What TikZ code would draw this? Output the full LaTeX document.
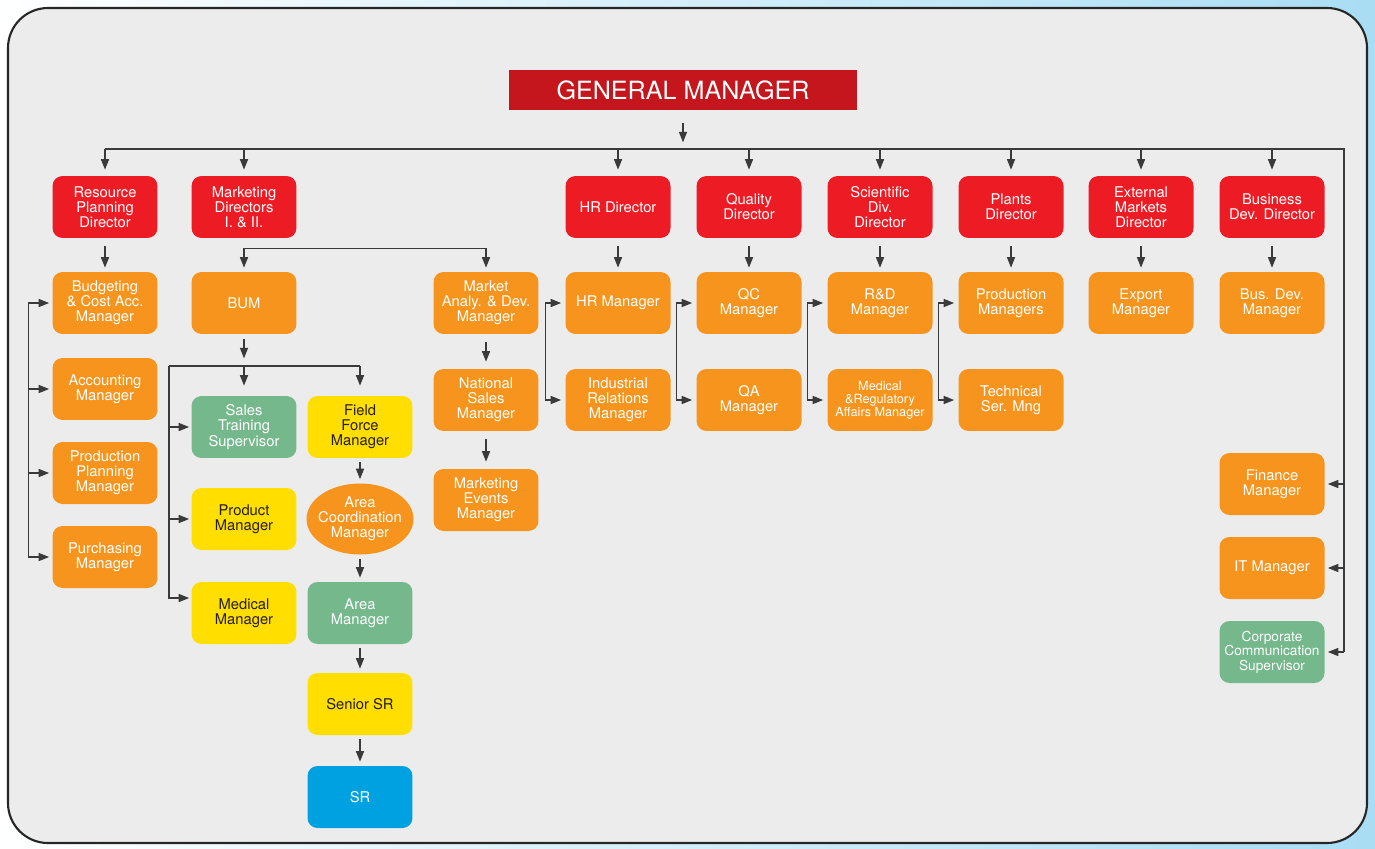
\documentclass[tikz,border=0pt]{standalone}
\usepackage{fontspec}
\setmainfont{TeX Gyre Heros}
\usetikzlibrary{arrows.meta,shapes.geometric}
\definecolor{gmred}{HTML}{C4161C}
\definecolor{dirred}{HTML}{ED1C24}
\definecolor{mgrorange}{HTML}{F7941D}
\definecolor{yelbox}{HTML}{FFDE00}
\definecolor{grnbox}{HTML}{75B88C}
\definecolor{blubox}{HTML}{00A1E1}
\definecolor{panelgrey}{HTML}{ECECEC}
\definecolor{linegrey}{HTML}{3A3A3A}
\definecolor{txtdark}{HTML}{231F20}
\definecolor{skyblue}{HTML}{A9DDF4}
\begin{document}
\begin{tikzpicture}[x=0.02cm,y=-0.02cm,
  box/.style={rounded corners=0.2cm, minimum width=2.1cm, minimum height=1.24cm,
    inner sep=1pt, align=center, text=white, font=\fontsize{8.4}{8.6}\selectfont},
  director/.style={box, fill=dirred},
  mgr/.style={box, fill=mgrorange},
  yel/.style={box, fill=yelbox, text=txtdark},
  grn/.style={box, fill=grnbox},
  blu/.style={box, fill=blubox},
  oval/.style={minimum width=2.14cm, minimum height=1.42cm, inner sep=0pt, align=center,
    text=white, font=\fontsize{8.4}{8.6}\selectfont,
    path picture={\fill[mgrorange] (path picture bounding box.center)
      ellipse [x radius=1.07cm, y radius=0.71cm];}},
  link/.style={draw=linegrey, line width=0.7pt},
  arr/.style={link, -{Triangle[length=6pt,width=4.6pt]}},
  twoarr/.style={link, {Triangle[length=6pt,width=4.6pt]}-{Triangle[length=6pt,width=4.6pt]}}]
  % background and panel
  \useasboundingbox (0,0) rectangle (1375,848);
  \shade[left color=white, middle color=white, right color=skyblue] (0,0) rectangle (1375,848);
  \draw[fill=panelgrey, draw=black!85, line width=1.2pt, rounded corners=0.8cm] (8,8) rectangle (1367,843);

  % top
  \node[box, fill=gmred, rounded corners=0pt, minimum width=6.96cm, minimum height=0.82cm,
    font=\fontsize{14.3}{16}\selectfont] (gm) at (683,90) {GENERAL MANAGER};

  % directors
  \node[director] (rpd) at (105,207) {Resource\\Planning\\Director};
  \node[director] (mkd) at (244,207) {Marketing\\Directors\\I. \& II.};
  \node[director] (hrd) at (618,207) {HR Director};
  \node[director] (qd)  at (749,207) {Quality\\Director};
  \node[director] (sdd) at (880,207) {Scientific\\Div.\\Director};
  \node[director] (pld) at (1011,207) {Plants\\Director};
  \node[director] (emd) at (1141,207) {External\\Markets\\Director};
  \node[director] (bdd) at (1272,207) {Business\\Dev. Director};

  % managers, first row
  \node[mgr] (bcm)  at (105,303) {Budgeting\\\& Cost Acc.\\Manager};
  \node[mgr] (bum)  at (244,303) {BUM};
  \node[mgr] (mad)  at (486,303) {Market\\Analy. \& Dev.\\Manager};
  \node[mgr] (hrm)  at (618,303) {HR Manager};
  \node[mgr] (qcm)  at (749,303) {QC\\Manager};
  \node[mgr] (rdm)  at (880,303) {R\&D\\Manager};
  \node[mgr] (prm)  at (1011,303) {Production\\Managers};
  \node[mgr] (exm)  at (1141,303) {Export\\Manager};
  \node[mgr] (bdm)  at (1272,303) {Bus. Dev.\\Manager};

  % resource planning column
  \node[mgr] (acm) at (105,389) {Accounting\\Manager};
  \node[mgr] (ppm) at (105,473) {Production\\Planning\\Manager};
  \node[mgr] (pum) at (105,557) {Purchasing\\Manager};

  % BUM group
  \node[grn] (stsup) at (244,427) {Sales\\Training\\Supervisor};
  \node[yel] (ffm)   at (360,427) {Field\\Force\\Manager};
  \node[yel] (prodm) at (244,519) {Product\\Manager};
  \node[oval] (acoord) at (360,519) {Area\\Coordination\\Manager};
  \node[yel] (medm)  at (244,613) {Medical\\Manager};
  \node[grn] (aream) at (360,613) {Area\\Manager};
  \node[yel] (ssr)   at (360,704) {Senior SR};
  \node[blu] (sr)    at (360,797) {SR};

  % second row
  \node[mgr] (nsm)  at (486,400) {National\\Sales\\Manager};
  \node[mgr] (mem)  at (486,500) {Marketing\\Events\\Manager};
  \node[mgr] (irm)  at (618,400) {Industrial\\Relations\\Manager};
  \node[mgr] (qam)  at (749,400) {QA\\Manager};
  \node[mgr, font=\fontsize{7.2}{7.4}\selectfont] (mram) at (880,400) {Medical\\\&Regulatory\\Affairs Manager};
  \node[mgr] (tsm)  at (1011,400) {Technical\\Ser. Mng};

  % staff on the right
  \node[mgr] (fin) at (1272,484) {Finance\\Manager};
  \node[mgr] (itm) at (1272,568) {IT Manager};
  \node[grn, font=\fontsize{7.8}{8.2}\selectfont] (ccs) at (1272,652) {Corporate\\Communication\\Supervisor};

  % general manager to directors
  \coordinate (bus) at (683,149);
  \coordinate (rbus) at (1344,149);
  \draw[arr] ([yshift=-0.25cm]gm.south) -- ([yshift=-0.63cm]gm.south);
  \draw[link] (rpd.north |- bus) -- (rbus) -- (rbus |- ccs.east);
  \foreach \d in {rpd,mkd,hrd,qd,sdd,pld,emd,bdd}
    \draw[arr] (\d.north |- bus) -- ([yshift=0.12cm]\d.north);
  \foreach \m in {fin,itm,ccs}
    \draw[arr] (rbus |- \m.east) -- ([xshift=0.06cm]\m.east);

  % directors to managers
  \foreach \d/\m in {rpd/bcm,hrd/hrm,qd/qcm,sdd/rdm,pld/prm,emd/exm,bdd/bdm}
    \draw[arr] ([yshift=-0.16cm]\d.south) -- ([yshift=0.08cm]\m.north);
  \draw[arr] ([yshift=-0.2cm]mkd.south) -- ([yshift=0.08cm]bum.north);
  \draw[arr] ([yshift=-0.2cm]mkd.south) -| ([yshift=0.08cm]mad.north);

  % resource planning bracket
  \draw[twoarr] ([xshift=-0.06cm]bcm.west) -- ++(-21,0) |- ([xshift=-0.06cm]pum.west);
  \foreach \m in {acm,ppm}
    \draw[arr] ([xshift=-0.48cm]\m.west) -- ([xshift=-0.06cm]\m.west);

  % BUM group
  \coordinate (bumbus) at (169,366);
  \draw[arr] ([yshift=-0.1cm]bum.south) -- ([yshift=-0.48cm]bum.south);
  \draw[link] (ffm.north |- bumbus) -- (bumbus);
  \draw[arr] (bumbus) |- ([xshift=-0.04cm,yshift=0.3cm]medm.west);
  \foreach \m in {stsup,prodm}
    \draw[arr] (bumbus |- \m.west) -- ([xshift=-0.04cm]\m.west);
  \foreach \m in {stsup,ffm}
    \draw[arr] (\m.north |- bumbus) -- ([yshift=0.2cm]\m.north);
  \foreach \a/\b in {ffm/acoord,acoord/aream,aream/ssr,ssr/sr}
    \draw[arr] ([yshift=-0.08cm]\a.south) -- ([yshift=0.08cm]\b.north);

  % market chain
  \foreach \a/\b in {mad/nsm,nsm/mem}
    \draw[arr] ([yshift=-0.16cm]\a.south) -- ([yshift=0.14cm]\b.north);

  % brackets
  \foreach \a/\b in {hrm/irm,qcm/qam,rdm/mram,prm/tsm}
    \draw[twoarr] ([xshift=-0.08cm]\a.west) -- ++(-16,0) |- ([xshift=-0.08cm]\b.west);
\end{tikzpicture}
\end{document}
